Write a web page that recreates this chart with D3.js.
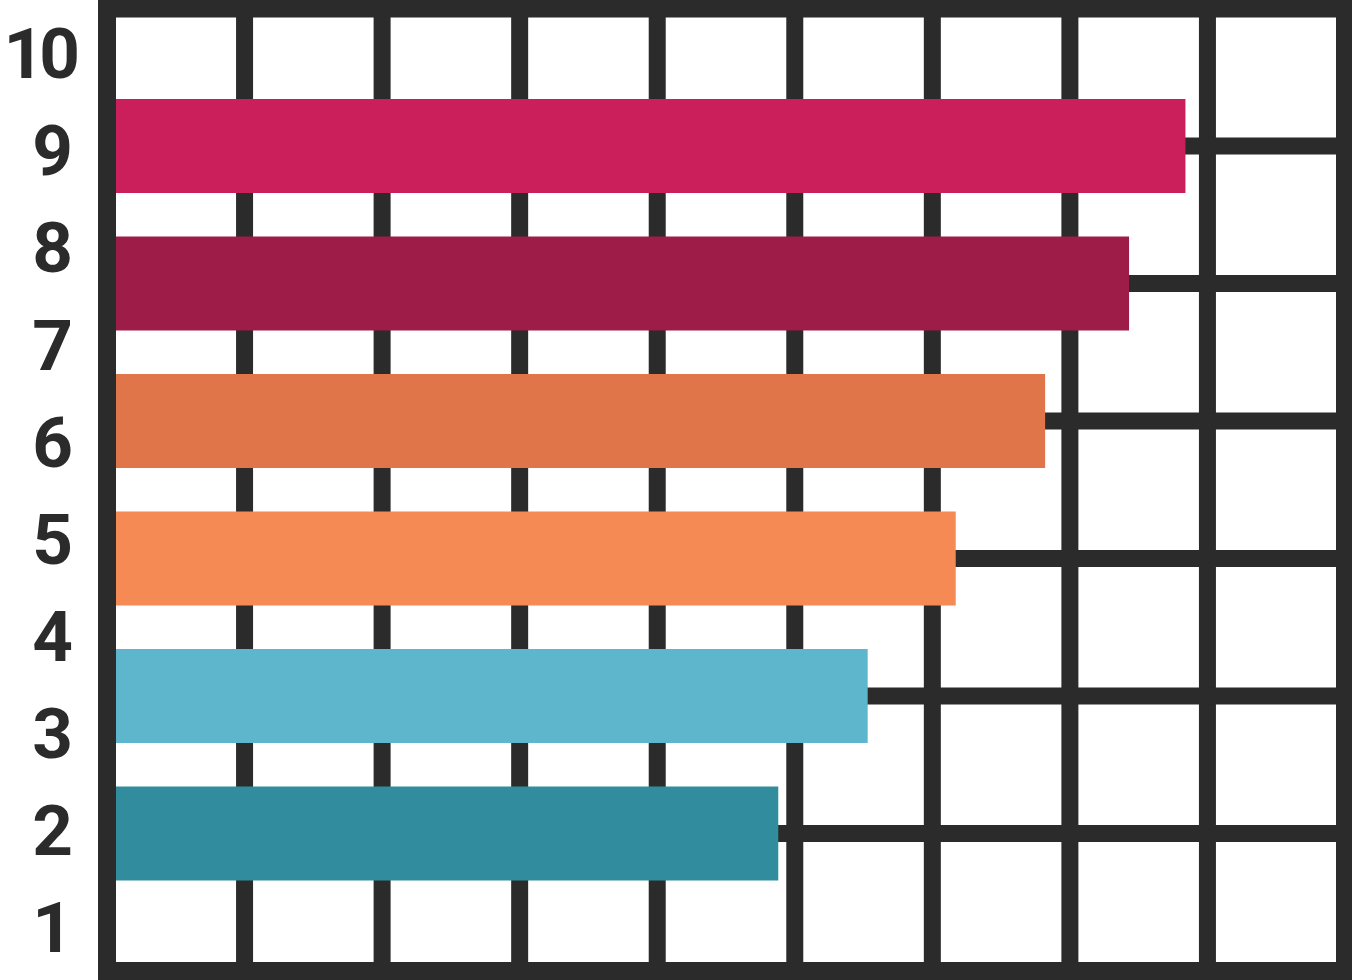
<!DOCTYPE html>
<html>
<head>
<meta charset="utf-8">
<script src="https://cdn.jsdelivr.net/npm/d3@7"></script>
<style>
  html, body { margin: 0; padding: 0; background: #ffffff; }
  svg { display: block; }
</style>
</head>
<body>
<script>
// ---- data ----
const tickLabels = [1, 2, 3, 4, 5, 6, 7, 8, 9, 10];
const categories = ["row1", "row2", "row3", "row4", "row5", "row6"]; // grid rows from top
const barRows = [1, 2, 3, 4, 5, 6];
const barValues = [7.84, 7.43, 6.82, 6.17, 5.53, 4.88];
const barColors = ["#cb1f5b", "#9e1d48", "#e0754a", "#f58a55", "#5eb6cd", "#318d9d"];
const gridColumns = d3.range(1, 9);
const gridRows = d3.range(1, 7);

// ---- layout ----
const W = 1352, H = 980;
const dark = "#2b2b2b";
const svg = d3.select("body").append("svg").attr("width", W).attr("height", H);

const x = d3.scaleLinear().domain([0, 9]).range([107, 1345]);
const y = d3.scaleLinear().domain([0, 7]).range([8.5, 971]);
const yLab = d3.scaleLinear().domain([1, 10]).range([927, 53]);

// inner grid lines
svg.append("g").selectAll("line").data(gridColumns).join("line")
  .attr("x1", d => x(d)).attr("x2", d => x(d))
  .attr("y1", y(0)).attr("y2", y(7))
  .attr("stroke", dark).attr("stroke-width", 17);
svg.append("g").selectAll("line").data(gridRows).join("line")
  .attr("x1", x(0)).attr("x2", x(9))
  .attr("y1", d => y(d)).attr("y2", d => y(d))
  .attr("stroke", dark).attr("stroke-width", 17);

// bars
const bars = categories.map((c, i) => ({ c, row: barRows[i], v: barValues[i], color: barColors[i] }));
const barH = 94;
svg.append("g").selectAll("rect").data(bars).join("rect")
  .attr("x", x(0))
  .attr("y", d => y(d.row) - barH / 2)
  .attr("width", d => x(d.v) - x(0))
  .attr("height", barH)
  .attr("fill", d => d.color);

// outer frame
svg.append("rect")
  .attr("x", x(0)).attr("y", y(0))
  .attr("width", x(9) - x(0)).attr("height", y(7) - y(0))
  .attr("fill", "none").attr("stroke", dark).attr("stroke-width", 18);

// left labels
svg.append("g").selectAll("text").data(tickLabels).join("text")
  .attr("x", d => String(d).length > 1 ? 75 : 73)
  .attr("y", d => yLab(d))
  .attr("dy", "0.355em")
  .attr("text-anchor", "end")
  .attr("letter-spacing", d => String(d).length > 1 ? -5 : 0)
  .attr("font-family", "Roboto, 'Liberation Sans', sans-serif")
  .attr("font-weight", 700)
  .attr("font-size", 71)
  .attr("fill", dark)
  .text(d => d);
</script>
</body>
</html>
